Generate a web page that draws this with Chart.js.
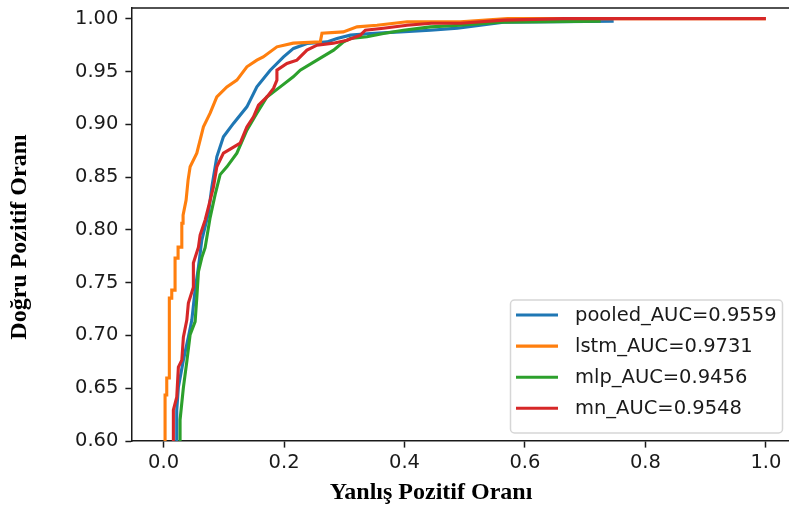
<!DOCTYPE html>
<html><head><meta charset="utf-8">
<style>
html,body{margin:0;padding:0;overflow:hidden;background:#fff;width:789px;height:514px}
#wrap{position:absolute;left:0;top:0;width:800px;height:514px}
</style>
<script src="https://cdn.jsdelivr.net/npm/chart.js@4.4.1/dist/chart.umd.min.js"></script>
</head><body><div id="wrap"><canvas id="c" width="800" height="514"></canvas></div>
<script>
// ----- data -----
const seriesLabels = ["pooled_AUC=0.9559", "lstm_AUC=0.9731", "mlp_AUC=0.9456", "mn_AUC=0.9548"];
const seriesColors = ["#1f77b4", "#ff7f0e", "#2ca02c", "#d62728"];

const pooledFpr = [0.0219,0.0219,0.0246,0.0329,0.0412,0.0469,0.0524,0.0579,0.0635,0.0745,0.0801,0.0884,0.0994,0.1160,0.1383,0.1549,0.1771,0.1992,0.2158,0.2381,0.2713,0.2880,0.3101,0.3433,0.3932,0.4431,0.4879,0.5262,0.5644,0.7473];
const pooledTpr = [0.6000,0.6293,0.6510,0.6766,0.6984,0.7145,0.7430,0.7647,0.7902,0.8158,0.8404,0.8691,0.8881,0.9008,0.9165,0.9354,0.9512,0.9638,0.9718,0.9765,0.9780,0.9812,0.9844,0.9860,0.9875,0.9891,0.9910,0.9938,0.9967,0.9976];

const lstmFpr = [0.0025,0.0025,0.0053,0.0053,0.0096,0.0096,0.0136,0.0136,0.0191,0.0191,0.0241,0.0241,0.0303,0.0303,0.0324,0.0324,0.0374,0.0407,0.0441,0.0552,0.0662,0.0773,0.0884,0.1051,0.1217,0.1383,0.1549,0.1654,0.1882,0.2153,0.2602,0.2630,0.2984,0.3212,0.3544,0.4043,0.4929,0.5711,1.0];
const lstmTpr = [0.6000,0.6435,0.6435,0.6596,0.6596,0.7353,0.7353,0.7429,0.7429,0.7732,0.7732,0.7836,0.7836,0.8063,0.8063,0.8139,0.8281,0.8471,0.8597,0.8726,0.8975,0.9105,0.9259,0.9354,0.9418,0.9544,0.9607,0.9638,0.9733,0.9768,0.9780,0.9863,0.9875,0.9922,0.9938,0.9970,0.9970,1.0,1.0];

const mlpFpr = [0.0274,0.0274,0.0329,0.0386,0.0441,0.0524,0.0552,0.0579,0.0635,0.0690,0.0773,0.0856,0.0939,0.1051,0.1217,0.1383,0.1549,0.1716,0.1937,0.2153,0.2269,0.2547,0.2823,0.2989,0.3101,0.3378,0.3649,0.3982,0.4431,0.4929,0.5594,0.7257];
const mlpTpr = [0.6000,0.6200,0.6506,0.6752,0.7008,0.7131,0.7358,0.7604,0.7737,0.7831,0.8116,0.8333,0.8523,0.8597,0.8726,0.8944,0.9105,0.9259,0.9354,0.9449,0.9512,0.9607,0.9702,0.9780,0.9812,0.9828,0.9860,0.9891,0.9922,0.9938,0.9967,0.9976];

const mnFpr = [0.0163,0.0163,0.0219,0.0246,0.0303,0.0329,0.0386,0.0412,0.0495,0.0495,0.0579,0.0607,0.0690,0.0745,0.0828,0.0884,0.0994,0.1134,0.1272,0.1383,0.1493,0.1576,0.1716,0.1825,0.1882,0.1882,0.2048,0.2214,0.2381,0.2547,0.2818,0.3046,0.3267,0.3350,0.3649,0.4043,0.4447,0.4929,0.5644,0.6642,1.0];
const mnTpr = [0.6000,0.6293,0.6416,0.6700,0.6766,0.6984,0.7145,0.7306,0.7457,0.7685,0.7836,0.7950,0.8092,0.8215,0.8404,0.8597,0.8726,0.8774,0.8821,0.8975,0.9070,0.9180,0.9259,0.9339,0.9418,0.9512,0.9576,0.9607,0.9702,0.9749,0.9768,0.9796,0.9844,0.9891,0.9910,0.9938,0.9957,0.9957,0.9986,1.0,1.0];

const xTicks = [0.0, 0.2, 0.4, 0.6, 0.8, 1.0];
const yTicks = [0.60, 0.65, 0.70, 0.75, 0.80, 0.85, 0.90, 0.95, 1.00];
const xTitle = "Yanlış Pozitif Oranı";
const yTitle = "Doğru Pozitif Oranı";

// ----- build chart -----
const fprs = [pooledFpr, lstmFpr, mlpFpr, mnFpr];
const tprs = [pooledTpr, lstmTpr, mlpTpr, mnTpr];
const drawOrder = [3, 2, 1, 0]; // red drawn on top, like matplotlib

const datasets = seriesLabels.map((lab, i) => ({
  label: lab,
  data: fprs[i].map((x, k) => ({x: x, y: tprs[i][k]})),
  borderColor: seriesColors[i],
  backgroundColor: seriesColors[i],
  borderWidth: 3.1,
  pointRadius: 0,
  showLine: true,
  tension: 0,
  fill: false,
  order: drawOrder[i]
}));

const FONT = "'DejaVu Sans', sans-serif";
const INK = '#1a1a1a';

const framePlugin = {
  id: 'frame',
  afterDatasetsDraw(chart) {
    const {ctx, chartArea: a} = chart;
    ctx.save();
    ctx.strokeStyle = INK;
    ctx.lineWidth = 1.5;
    ctx.beginPath();
    ctx.moveTo(a.left, a.top); ctx.lineTo(a.right, a.top); ctx.lineTo(a.right, a.bottom);
    ctx.stroke();
    ctx.restore();
  },
  afterDraw(chart) {
    const {ctx} = chart;
    ctx.save();
    // axis titles (positioned like the reference)
    ctx.fillStyle = '#000';
    ctx.font = "bold 24px 'Liberation Serif', serif";
    ctx.textAlign = 'center';
    ctx.textBaseline = 'middle';
    ctx.fillText(xTitle, 431, 493);
    ctx.translate(20, 237);
    ctx.rotate(-Math.PI / 2);
    ctx.fillText(yTitle, 0, 0);
    ctx.restore();

    // legend
    ctx.save();
    const bx = 510.5, by = 300, bw = 272, bh = 133, r = 4;
    ctx.beginPath();
    ctx.moveTo(bx + r, by);
    ctx.arcTo(bx + bw, by, bx + bw, by + bh, r);
    ctx.arcTo(bx + bw, by + bh, bx, by + bh, r);
    ctx.arcTo(bx, by + bh, bx, by, r);
    ctx.arcTo(bx, by, bx + bw, by, r);
    ctx.closePath();
    ctx.fillStyle = 'rgba(255,255,255,0.8)';
    ctx.fill();
    ctx.strokeStyle = '#d6d6d6';
    ctx.lineWidth = 1.5;
    ctx.stroke();
    ctx.font = "19.5px " + FONT;
    ctx.textAlign = 'left';
    ctx.textBaseline = 'middle';
    chart.data.datasets.forEach((ds, i) => {
      const y = 315 + i * 31.1;
      ctx.strokeStyle = ds.borderColor;
      ctx.lineWidth = 3.1;
      ctx.beginPath();
      ctx.moveTo(516, y); ctx.lineTo(558, y);
      ctx.stroke();
      ctx.fillStyle = INK;
      ctx.fillText(ds.label, 575, y + 1);
    });
    ctx.restore();
  }
};

new Chart(document.getElementById('c'), {
  type: 'scatter',
  data: {datasets},
  options: {
    responsive: false,
    devicePixelRatio: 1,
    animation: false,
    events: [],
    layout: {padding: {top: 8, right: 4, left: 0, bottom: 0}},
    plugins: {legend: {display: false}, tooltip: {enabled: false}, title: {display: false}},
    scales: {
      x: {
        type: 'linear',
        min: -0.0524, max: 1.05,
        afterBuildTicks: s => { s.ticks = xTicks.map(v => ({value: v})); },
        afterFit: s => { s.height = 73; s.paddingLeft = 0; s.paddingRight = 0; },
        grid: {drawOnChartArea: false, drawTicks: true, tickLength: 6.6, tickWidth: 1.5, tickColor: INK},
        border: {display: true, color: INK, width: 1.5},
        ticks: {color: INK, font: {family: FONT, size: 19.5}, padding: 4, maxRotation: 0,
                callback: v => Number(v).toFixed(1)}
      },
      y: {
        type: 'linear',
        min: 0.60, max: 1.0101,
        afterBuildTicks: s => { s.ticks = yTicks.map(v => ({value: v})); },
        afterFit: s => { s.width = 132; s.paddingTop = 0; s.paddingBottom = 0; },
        grid: {drawOnChartArea: false, drawTicks: true, tickLength: 6.6, tickWidth: 1.5, tickColor: INK},
        border: {display: true, color: INK, width: 1.5},
        ticks: {color: INK, font: {family: FONT, size: 19.5}, padding: 7,
                callback: v => Number(v).toFixed(2)}
      }
    }
  },
  plugins: [framePlugin]
});
</script>
</body></html>
